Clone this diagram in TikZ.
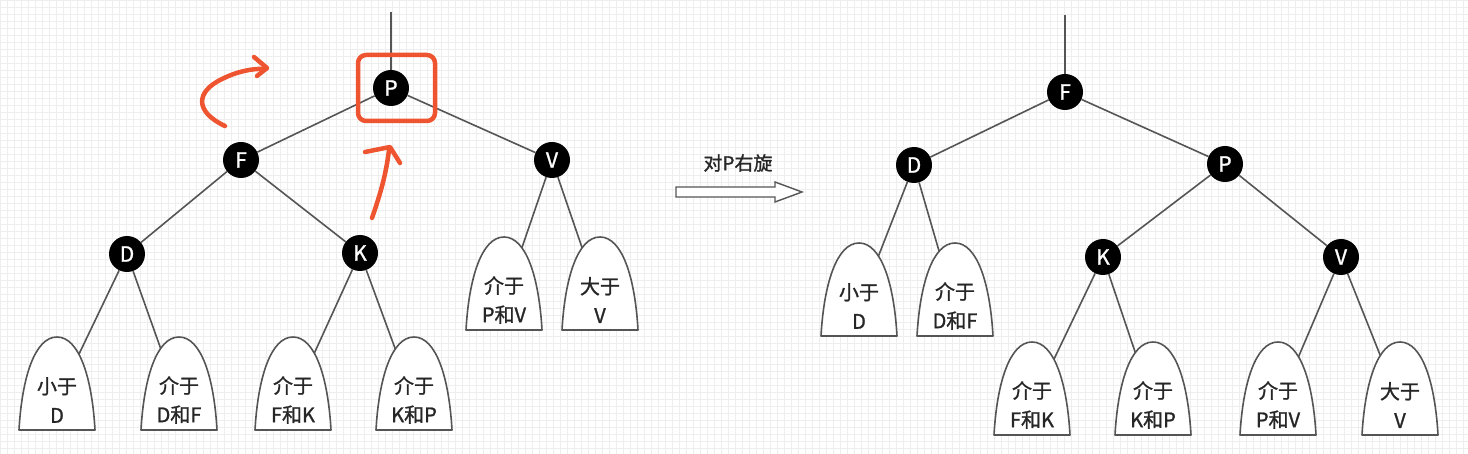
\documentclass[tikz,border=0pt]{standalone}
\usepackage{fontspec}
\setmainfont[FakeBold=0.6]{Noto Sans CJK SC}
\newfontfamily\heavier[FakeBold=1.2]{Noto Sans CJK SC}
\usetikzlibrary{calc}
\definecolor{edgegray}{HTML}{555555}
\definecolor{mark}{HTML}{EF5430}
\definecolor{gridc}{HTML}{EEEEEE}
\pgfdeclarelayer{gridlayer}
\pgfdeclarelayer{edgelayer}
\pgfdeclarelayer{shapelayer}
\pgfsetlayers{gridlayer,edgelayer,shapelayer,main}
\tikzset{
  tnode/.style={circle, fill=black, text=white, minimum size=36pt, inner sep=0pt,
    font=\heavier\fontsize{21}{21}\selectfont},
  sublabel/.style={align=center, inner sep=0pt, text=black!85, font=\heavier\fontsize{20}{29}\selectfont},
  tedge/.style={draw=edgegray, line width=1.6pt},
  dome/.style={draw=edgegray, line width=1.6pt, fill=white, line join=round},
  redmark/.style={draw=mark, line width=4.5pt, line cap=round, line join=round},
  hollow/.style={draw=edgegray, line width=1.4pt, fill=white, line join=miter},
}
\begin{document}
\begin{tikzpicture}[x=1pt,y=-1pt]
\useasboundingbox (0,0) rectangle (1468,454);
\begin{pgfonlayer}{gridlayer}
  \fill[white] (0,0) rectangle (1468,454);
  \draw[gridc, line width=0.5pt] (0,0) grid[step=7pt] (1468,454);
\end{pgfonlayer}

% ---------- left tree ----------
\node[tnode] (lP) at (391,88) {P};
\node[tnode] (lF) at (241,160) {F};
\node[tnode] (lV) at (552,160) {V};
\node[tnode] (lD) at (127,254) {D};
\node[tnode] (lK) at (360,253) {K};
\coordinate (lTop) at (391,12);

\node[sublabel] (l1) at (57,400) {小于\\D};
\node[sublabel] (l2) at (179,400) {介于\\D和F};
\node[sublabel] (l3) at (293,400) {介于\\F和K};
\node[sublabel] (l4) at (414,400) {介于\\K和P};
\node[sublabel] (l5) at (504,300) {介于\\P和V};
\node[sublabel] (l6) at (600,300) {大于\\V};

% ---------- right tree ----------
\node[tnode] (rF) at (1065,92) {F};
\node[tnode] (rD) at (914,165) {D};
\node[tnode] (rP) at (1225,164) {P};
\node[tnode] (rK) at (1103,257) {K};
\node[tnode] (rV) at (1341,257) {V};
\coordinate (rTop) at (1065,15);

\node[sublabel] (r1) at (859,306) {小于\\D};
\node[sublabel] (r2) at (955,306) {介于\\D和F};
\node[sublabel] (r3) at (1032,405) {介于\\F和K};
\node[sublabel] (r4) at (1153,405) {介于\\K和P};
\node[sublabel] (r5) at (1278,405) {介于\\P和V};
\node[sublabel] (r6) at (1400,405) {大于\\V};

% ---------- edges ----------
\begin{pgfonlayer}{edgelayer}
  \draw[tedge] (lTop) -- (lP);
  \draw[tedge] (lP) -- (lF);
  \draw[tedge] (lP) -- (lV);
  \draw[tedge] (lF) -- (lD);
  \draw[tedge] (lF) -- (lK);
  \draw[tedge] (lD) -- (l1);
  \draw[tedge] (lD) -- (l2);
  \draw[tedge] (lK) -- (l3);
  \draw[tedge] (lK) -- (l4);
  \draw[tedge] (lV) -- (l5);
  \draw[tedge] (lV) -- (l6);
  \draw[tedge] (rTop) -- (rF);
  \draw[tedge] (rF) -- (rD);
  \draw[tedge] (rF) -- (rP);
  \draw[tedge] (rP) -- (rK);
  \draw[tedge] (rP) -- (rV);
  \draw[tedge] (rD) -- (r1);
  \draw[tedge] (rD) -- (r2);
  \draw[tedge] (rK) -- (r3);
  \draw[tedge] (rK) -- (r4);
  \draw[tedge] (rV) -- (r5);
  \draw[tedge] (rV) -- (r6);
\end{pgfonlayer}

% ---------- subtree domes ----------
\begin{pgfonlayer}{shapelayer}
  \foreach \n in {l1,l2,l3,l4,l5,l6,r1,r2,r3,r4,r5,r6}{
    \draw[dome] ($(\n)+(-38,30)$) .. controls ($(\n)+(-35,-23)$) and ($(\n)+(-22,-63)$) .. ($(\n)+(0,-63)$)
      .. controls ($(\n)+(22,-63)$) and ($(\n)+(35,-23)$) .. ($(\n)+(38,30)$) -- cycle;
  }
\end{pgfonlayer}

% ---------- rotation arrow ----------
\node[font=\heavier\fontsize{19}{19}\selectfont, text=black!85, inner sep=0pt] (rotlabel) at (738,163) {对P右旋};
\draw[hollow] (676,187) -- (775,187) -- (775,182) -- (802,192) -- (775,202) -- (775,197) -- (676,197) -- cycle;

% ---------- red annotations ----------
\draw[redmark, rounded corners=8pt] ($(lP)+(-33,-33)$) rectangle ($(lP)+(44,33)$);
\coordinate (a1s) at (225,126);
\coordinate (a1m) at (222,79);
\coordinate (a1e) at (266,69);
\draw[redmark] (a1s) .. controls (195,112) and (195,92) .. (a1m) .. controls (236,72) and (252,68) .. (a1e);
\draw[redmark] (254,57) -- (267,68) -- (257,76);
\coordinate (a2s) at (372,218);
\coordinate (a2e) at (389,150);
\draw[redmark] (a2s) .. controls (380,195) and (386,175) .. (a2e);
\draw[redmark] (365,152) -- (390,147) -- (400,163);
\end{tikzpicture}
\end{document}
